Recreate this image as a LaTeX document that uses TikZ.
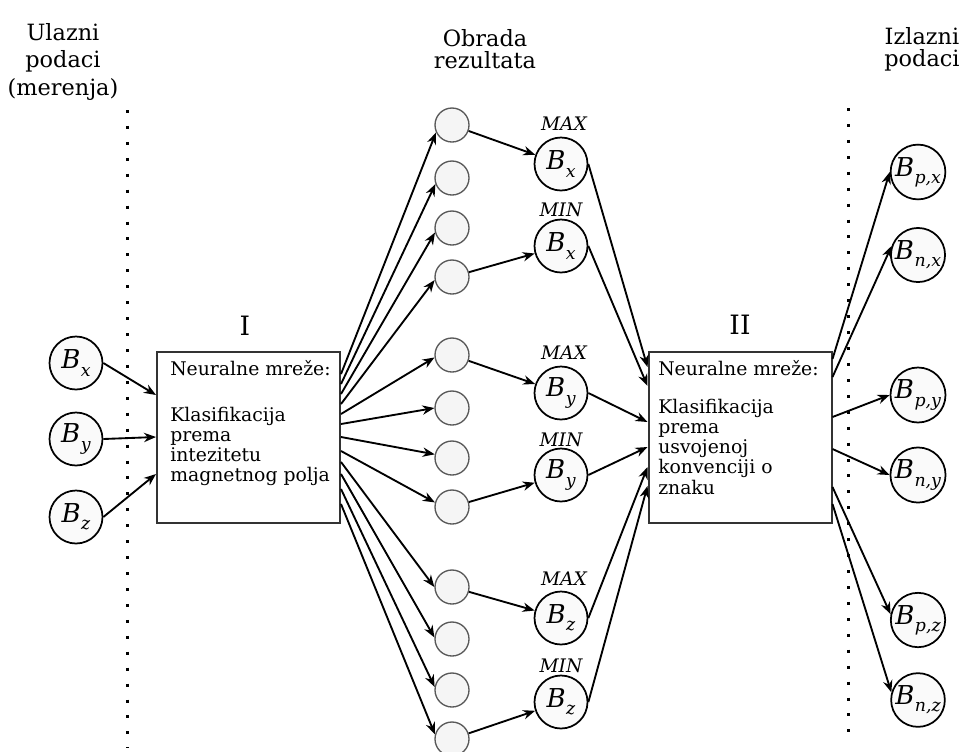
\documentclass[tikz,border=0pt]{standalone}
\usepackage{fontspec}
\setmainfont{DejaVu Serif}
\usetikzlibrary{arrows.meta,calc}
\newcommand\Bs[1]{\textit{B}\kern0.02em\raisebox{-0.28em}{\fontsize{13}{13}\selectfont\textit{#1}}}
\newcommand\boxfont{\fontsize{14.1}{15.2}\selectfont}
\tikzset{
  bigc/.style={circle, draw=black, line width=1.3pt, fill=black!2, minimum size=39.75pt, inner sep=0pt, font=\fontsize{19.5}{19.5}\selectfont},
  outc/.style={bigc, minimum size=37.5pt},
  smallc/.style={circle, draw=black!65, line width=1pt, fill=black!4, minimum size=25.5pt, inner sep=0pt},
  nnbox/.style={draw=black!80, line width=1.5pt, fill=white, minimum width=137.25pt, minimum height=128.25pt, inner sep=0pt},
  arr/.style={-{Stealth[length=9pt,width=7pt]}, line width=1.4pt},
  dotline/.style={line width=2.25pt, dash pattern=on 2.25pt off 9.7pt},
  mlbl/.style={font=\itshape\fontsize{14}{14}\selectfont, inner sep=0pt, anchor=base},
  hdr/.style={align=center, font=\fontsize{16.8}{20.6}\selectfont, inner sep=0pt, anchor=north},
  hdrb/.style={align=center, font=\fontsize{16.8}{16.8}\selectfont, inner sep=0pt, anchor=north},
  btxt/.style={font=\boxfont, inner sep=0pt, align=left},
  roman/.style={font=\fontsize{20}{20}\selectfont, inner sep=0pt}
}
\begin{document}
\begin{tikzpicture}[x=0.75pt,y=-0.75pt]
\useasboundingbox (0,0) rectangle (960,751);

% headers
\node[hdr] (h1) at (63,23) {Ulazni\\podaci\\(merenja)};
\node[hdrb] (h2) at (485,29) {Obrada\\rezultata};
\node[hdrb] (h3) at (922,27) {Izlazni\\podaci};

% dotted separators
\draw[dotline] (127,110) -- (127,748);
\draw[dotline] (848,108) -- (848,745);

% input circles
\node[bigc] (iBx) at (76,363) {\Bs{x}};
\node[bigc] (iBy) at (76,439) {\Bs{y}};
\node[bigc] (iBz) at (76,517) {\Bs{z}};

% boxes
\node[nnbox] (b1) at (248.5,437.5) {};
\node[nnbox] (b2) at (740,437.5) {};
\node[roman] (L1) at (245,326) {I};
\node[roman] (L2) at (740,325) {II};

\node[btxt, anchor=base west] (t1a) at (170,375) {Neuralne mreže:};
\node[btxt, anchor=north west] (t1b) at (170,406.5) {Klasifikacija\\prema\\intezitetu\\magnetnog polja};
\node[btxt, anchor=base west] (t2a) at (658,375) {Neuralne mreže:};
\node[btxt, anchor=north west] (t2b) at (658,398.5) {Klasifikacija\\prema\\usvojenoj\\konvenciji o\\znaku};

% small circles
\foreach \i/\y in {1/125,2/178,3/228,4/277,5/355,6/408,7/458,8/507,9/587,10/639,11/690,12/739}
  \node[smallc] (s\i) at (452,\y) {};

% middle B circles
\node[bigc] (mx1) at (561,164) {\Bs{x}};
\node[bigc] (nx1) at (561,246) {\Bs{x}};
\node[bigc] (mx2) at (561,393) {\Bs{y}};
\node[bigc] (nx2) at (561,475) {\Bs{y}};
\node[bigc] (mx3) at (561,618) {\Bs{z}};
\node[bigc] (nx3) at (561,702) {\Bs{z}};
\node[mlbl] (lm1) at (564,130) {MAX};
\node[mlbl] (ln1) at (561,216) {MIN};
\node[mlbl] (lm2) at (564,359) {MAX};
\node[mlbl] (ln2) at (561,446) {MIN};
\node[mlbl] (lm3) at (564,585) {MAX};
\node[mlbl] (ln3) at (561,672) {MIN};

% output circles
\node[outc] (oBpx) at (918,172) {\Bs{p,x}};
\node[outc] (oBnx) at (918,255) {\Bs{n,x}};
\node[outc] (oBpy) at (918,395) {\Bs{p,y}};
\node[outc] (oBny) at (918,475) {\Bs{n,y}};
\node[outc] (oBpz) at (918,620) {\Bs{p,z}};
\node[outc] (oBnz) at (918,700) {\Bs{n,z}};

% inputs -> box I
\draw[arr] (iBx.east) -- ([yshift=-33pt]b1.north west);
\draw[arr] (iBy.east) -- ([yshift=-64.5pt]b1.north west);
\draw[arr] (iBz.east) -- ([yshift=-92.25pt]b1.north west);

% box I -> small circles
\foreach \i/\d/\a in {1/17.25/205,2/24.75/200,3/32.25/195,4/39.75/190,5/47.25/188,6/54.75/180,7/64.5/168,8/75/165,9/83.25/180,10/92.25/175,11/103.5/170,12/114.75/165}
  \draw[arr] ([yshift=-\d pt]b1.north east) -- (s\i.\a);

% small circles -> middle B
\draw[arr] (s1) -- (mx1);
\draw[arr] (s4) -- (nx1);
\draw[arr] (s5) -- (mx2);
\draw[arr] (s8) -- (nx2);
\draw[arr] (s9) -- (mx3);
\draw[arr] (s12) -- (nx3);

% middle B -> box II
\draw[arr] (mx1.east) -- ([yshift=-12pt]b2.north west);
\draw[arr] (nx1.east) -- ([yshift=-26.25pt]b2.north west);
\draw[arr] (mx2.east) -- ([yshift=-53.25pt]b2.north west);
\draw[arr] (nx2.east) -- ([yshift=-72pt]b2.north west);
\draw[arr] (mx3.east) -- ([yshift=-87pt]b2.north west);
\draw[arr] (nx3.east) -- ([yshift=-101.25pt]b2.north west);

% box II -> outputs
\draw[arr] ([yshift=-6pt]b2.north east) -- (oBpx.180);
\draw[arr] ([yshift=-19.5pt]b2.north east) -- (oBnx.161);
\draw[arr] ([yshift=-49.5pt]b2.north east) -- (oBpy.180);
\draw[arr] ([yshift=-73.5pt]b2.north east) -- (oBny.180);
\draw[arr] ([yshift=-102pt]b2.north east) -- (oBpz.168);
\draw[arr] ([yshift=-114.75pt]b2.north east) -- (oBnz.164);
\end{tikzpicture}
\end{document}
